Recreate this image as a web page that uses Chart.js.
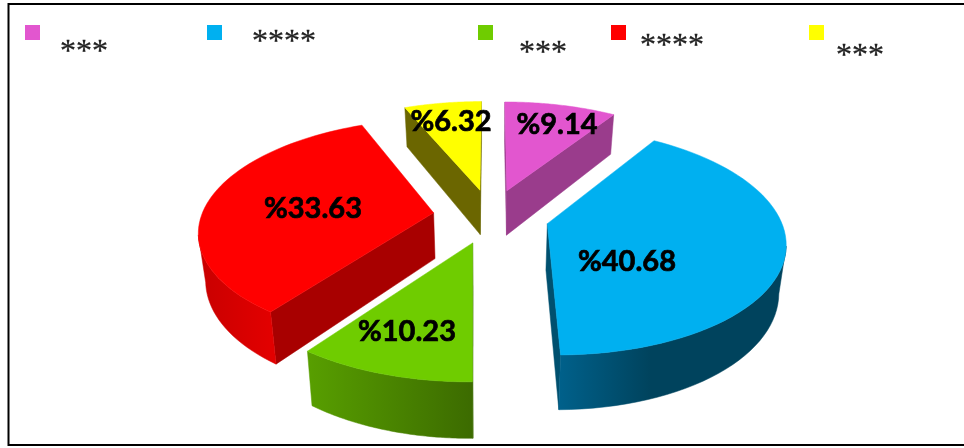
<!DOCTYPE html>
<html>
<head>
<meta charset="utf-8">
<script src="https://cdn.jsdelivr.net/npm/chart.js@4"></script>
<style>
  html, body { margin: 0; padding: 0; background: #fff; }
  canvas { display: block; }
</style>
</head>
<body>
<canvas id="chart" width="964" height="448"></canvas>
<script>
const categories = ['***', '****', '***', '****', '***']
const shares = [9.14, 40.68, 10.23, 33.63, 6.32]
const topColors = ['#e256cf', '#00b0f0', '#6fcc00', '#ff0000', '#ffff00']
// wall colours, left to right on screen
const arcWallColors = [['#9a3c8c', '#9a3c8c'], ['#00608a', '#00435d'], ['#589f00', '#3c6b00'], ['#c80000', '#e20000'], ['#6b6600', '#6b6600']]
const flatWallColors = ['#9a3c8c', '#00506f', '#3c6b00', '#a80000', '#6b6600']
const wallFadeEnd = [1, 0.4, 1, 1, 1]

// pseudo 3D view
const explode = 0.25
const stretchX = 1.075
const squashY = 0.505
const perspective = 0.15
const depth = 46
const taper = 0.025
const drawOrder = [4, 0, 3, 1, 2]

const labelSpots = [[557, 125], [627, 262], [407, 332], [313, 209], [451, 122]]
const legendSquares = [[25, 25], [207, 25], [478, 25], [611, 25], [809, 25]]
const legendTexts = [[60, 47], [252, 37], [519, 48], [640, 41], [836, 51]]

function project(el, u, v, z) {
  const s = 1 / (1 - perspective * v)
  const narrow = 1 - taper * z / depth
  return {
    x: el.x + el.outerRadius * stretchX * u * s * narrow,
    y: el.y + el.outerRadius * squashY * v * s + z * s
  }
}

function slicePoints(el) {
  const mid = (el.startAngle + el.endAngle) / 2
  const ou = Math.cos(mid) * explode
  const ov = Math.sin(mid) * explode
  const rim = []
  const steps = 60
  for (let i = 0; i <= steps; i++) {
    const a = el.startAngle + (el.endAngle - el.startAngle) * i / steps
    rim.push([ou + Math.cos(a), ov + Math.sin(a)])
  }
  return { apex: [ou, ov], rim }
}

function fillPath(ctx, pts, fill) {
  ctx.beginPath()
  pts.forEach((p, i) => i ? ctx.lineTo(p.x, p.y) : ctx.moveTo(p.x, p.y))
  ctx.closePath()
  ctx.fillStyle = fill
  ctx.strokeStyle = fill
  ctx.lineWidth = 0.5
  ctx.fill()
  ctx.stroke()
}

function drawWall(ctx, el, from, to, fill) {
  const top = [project(el, from[0], from[1], 0), project(el, to[0], to[1], 0)]
  if (top[1].x >= top[0].x + 0.01 ) return
  fillPath(ctx, [top[0], top[1], project(el, to[0], to[1], depth), project(el, from[0], from[1], depth)], fill)
}

function drawSlice(ctx, el, i) {
  const { apex, rim } = slicePoints(el)
  const last = rim[rim.length - 1]

  // straight cut faces
  drawWall(ctx, el, apex, rim[0], flatWallColors[i])
  drawWall(ctx, el, last, apex, flatWallColors[i])

  // curved outer wall, only the part that faces the viewer
  const front = []
  for (let k = 0; k < rim.length - 1; k++) {
    const a = project(el, rim[k][0], rim[k][1], 0)
    const b = project(el, rim[k + 1][0], rim[k + 1][1], 0)
    if (b.x < a.x) front.push(rim[k], rim[k + 1])
  }
  if (front.length) {
    const tops = front.map(p => project(el, p[0], p[1], 0))
    const bottoms = front.map(p => project(el, p[0], p[1], depth)).reverse()
    const xs = tops.map(p => p.x)
    const grad = ctx.createLinearGradient(Math.min(...xs), 0, Math.max(...xs), 0)
    grad.addColorStop(0, arcWallColors[i][0])
    grad.addColorStop(wallFadeEnd[i], arcWallColors[i][1])
    fillPath(ctx, tops.concat(bottoms), grad)
  }

  // top face
  const face = [project(el, apex[0], apex[1], 0)].concat(rim.map(p => project(el, p[0], p[1], 0)))
  fillPath(ctx, face, topColors[i])
}

const tiltedPie = {
  id: 'tiltedPie',
  beforeDatasetsDraw(chart) {
    const ctx = chart.ctx
    const arcs = chart.getDatasetMeta(0).data
    ctx.save()
    drawOrder.forEach(i => drawSlice(ctx, arcs[i], i))
    ctx.restore()
    return false
  },
  afterDraw(chart) {
    const ctx = chart.ctx
    ctx.save()

    // frame
    ctx.strokeStyle = '#000'
    ctx.lineWidth = 2
    ctx.strokeRect(8.5, 4, 970, 441)

    // legend
    legendSquares.forEach((p, i) => {
      ctx.fillStyle = topColors[i]
      ctx.fillRect(p[0], p[1], 15, 15)
    })
    ctx.font = '32px "Liberation Serif"'
    ctx.fillStyle = '#222'
    ctx.strokeStyle = '#222'
    ctx.lineWidth = 0.3
    ctx.textAlign = 'left'
    ctx.textBaseline = 'alphabetic'
    legendTexts.forEach((p, i) => {
      // the asterisk sits high in the em, so shift down from its centre
      ctx.fillText(categories[i], p[0], p[1] + 14)
      ctx.strokeText(categories[i], p[0], p[1] + 14)
    })

    // value labels
    ctx.font = 'bold 29px Lato'
    ctx.fillStyle = '#000'
    ctx.strokeStyle = '#000'
    ctx.lineWidth = 0.7
    ctx.textAlign = 'center'
    ctx.textBaseline = 'middle'
    labelSpots.forEach((p, i) => {
      const text = '%' + shares[i].toFixed(2)
      ctx.fillText(text, p[0], p[1])
      ctx.strokeText(text, p[0], p[1])
    })
    ctx.restore()
  }
}

new Chart(document.getElementById('chart'), {
  type: 'pie',
  data: {
    labels: categories,
    datasets: [{
      data: shares,
      backgroundColor: topColors,
      borderWidth: 0
    }]
  },
  options: {
    responsive: false,
    animation: false,
    layout: {
      padding: { left: 18, bottom: 16 }
    },
    plugins: {
      legend: { display: false },
      tooltip: { enabled: false }
    }
  },
  plugins: [tiltedPie]
})
</script>
</body>
</html>
